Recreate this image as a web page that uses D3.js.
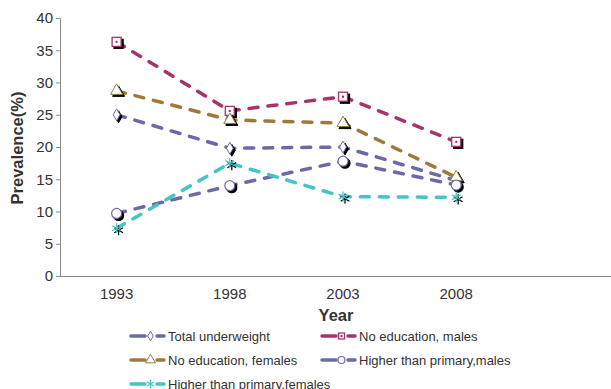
<!DOCTYPE html>
<html>
<head>
<meta charset="utf-8">
<script src="https://cdn.jsdelivr.net/npm/d3@7"></script>
<style>
  body { margin: 0; background: #fff; }
  text { font-family: "Liberation Sans", Arial, sans-serif; fill: #333; }
</style>
</head>
<body>
<svg id="chart" width="611" height="389"></svg>
<script>
// categories (last slot is an empty band, as in the original)
const years = ['1993', '1998', '2003', '2008', ''];
const yTicks = [0, 5, 10, 15, 20, 25, 30, 35, 40];

const totalUnderweight = [25.0, 19.8, 20.0, 14.8];
const noEduMales = [36.3, 25.6, 27.8, 20.8];
const noEduFemales = [28.7, 24.2, 23.7, 15.3];
const higherPrimMales = [9.7, 14.0, 17.8, 14.1];
const higherPrimFemales = [7.4, 17.5, 12.3, 12.2];

const seriesNames = ['Total underweight', 'No education, males', 'No education, females',
  'Higher than primary,males', 'Higher than primary,females'];
const seriesColors = ['#6b6aa8', '#a7336b', '#9c7a3c', '#6b6aa8', '#45c4c4'];
const seriesSymbols = ['diamond', 'square', 'triangle', 'circle', 'star'];

const series = [totalUnderweight, noEduMales, noEduFemales, higherPrimMales, higherPrimFemales]
  .map((values, i) => ({ name: seriesNames[i], color: seriesColors[i], symbol: seriesSymbols[i], values: values }));

const svg = d3.select('#chart');

const x = d3.scaleBand().domain(years).range([60, 626]);
const y = d3.scaleLinear().domain([0, 40]).range([276, 18]);

// axes
const yAxis = svg.append('g').attr('transform', 'translate(60,0)')
  .call(d3.axisLeft(y).tickValues(yTicks).tickSize(4).tickPadding(3));
yAxis.selectAll('path, line').attr('stroke', '#8a8a8a');
yAxis.selectAll('text').style('font-size', '15px').attr('fill', '#333');

const xAxis = svg.append('g').attr('transform', 'translate(0,276)')
  .call(d3.axisBottom(x).tickSize(0).tickPadding(12));
xAxis.select('path').attr('stroke', '#8a8a8a').attr('d', 'M60,0.5H611');
xAxis.selectAll('text').style('font-size', '15px').attr('fill', '#333');

svg.append('text')
  .attr('transform', 'translate(23,148) rotate(-90)')
  .attr('text-anchor', 'middle')
  .style('font-size', '16.5px').style('font-weight', 'bold')
  .text('Prevalence(%)');

svg.append('text')
  .attr('x', 336).attr('y', 321)
  .attr('text-anchor', 'middle')
  .style('font-size', '16.5px').style('font-weight', 'bold')
  .text('Year');

// markers
function drawMarker(g, kind, color, size, shadow) {
  const fill = shadow ? '#000' : '#fff';
  const stroke = shadow ? '#000' : color;
  if (kind === 'diamond') {
    g.append('path').attr('d', d3.symbol(d3.symbolDiamond, size * 4.5)())
      .attr('fill', fill).attr('stroke', stroke).attr('stroke-width', 1);
  } else if (kind === 'square') {
    g.append('rect').attr('x', -size / 2).attr('y', -size / 2).attr('width', size).attr('height', size)
      .attr('fill', fill).attr('stroke', stroke).attr('stroke-width', 1.3);
    if (!shadow) g.append('circle').attr('r', 1.2).attr('fill', color);
  } else if (kind === 'triangle') {
    g.append('path').attr('d', d3.symbol(d3.symbolTriangle, size * 7)())
      .attr('fill', fill).attr('stroke', stroke).attr('stroke-width', 1);
  } else if (kind === 'circle') {
    g.append('circle').attr('r', size / 2 + 0.5)
      .attr('fill', fill).attr('stroke', stroke).attr('stroke-width', 1.2);
  } else if (kind === 'star') {
    g.append('path').attr('d', d3.symbol(d3.symbolAsterisk, size * 8)())
      .attr('fill', 'none').attr('stroke', shadow ? '#000' : color).attr('stroke-width', 1.2);
  }
}

const line = d3.line()
  .x((d, i) => x(years[i]) + x.bandwidth() / 2)
  .y(d => y(d));

const plot = svg.append('g');

series.forEach(s => {
  plot.append('path')
    .datum(s.values)
    .attr('d', line)
    .attr('fill', 'none')
    .attr('stroke', s.color)
    .attr('stroke-width', 3.5)
    .attr('stroke-linecap', 'round')
    .attr('stroke-dasharray', '9,10');
});

series.forEach(s => {
  s.values.forEach((v, i) => {
    const cx = x(years[i]) + x.bandwidth() / 2;
    const cy = y(v);
    drawMarker(plot.append('g').attr('transform', 'translate(' + (cx + 2) + ',' + (cy + 2) + ')'), s.symbol, s.color, 9, true);
    drawMarker(plot.append('g').attr('transform', 'translate(' + cx + ',' + cy + ')'), s.symbol, s.color, 9, false);
  });
});

// legend
const legendX = [131, 322];
const legendY = [336, 360, 384];

series.forEach((s, i) => {
  const lx = legendX[i % 2];
  const ly = legendY[Math.floor(i / 2)];
  const g = svg.append('g').attr('transform', 'translate(' + lx + ',' + ly + ')');
  g.append('line').attr('x1', 0).attr('x2', 14).attr('y1', 0).attr('y2', 0)
    .attr('stroke', s.color).attr('stroke-width', 3.5).attr('stroke-linecap', 'round');
  g.append('line').attr('x1', 26).attr('x2', 33).attr('y1', 0).attr('y2', 0)
    .attr('stroke', s.color).attr('stroke-width', 3.5).attr('stroke-linecap', 'round');
  drawMarker(g.append('g').attr('transform', 'translate(19.5,0)'), s.symbol, s.color, 6, false);
  g.append('text').attr('x', 37).attr('y', 4.5)
    .style('font-size', '13px')
    .text(s.name);
});
</script>
</body>
</html>
